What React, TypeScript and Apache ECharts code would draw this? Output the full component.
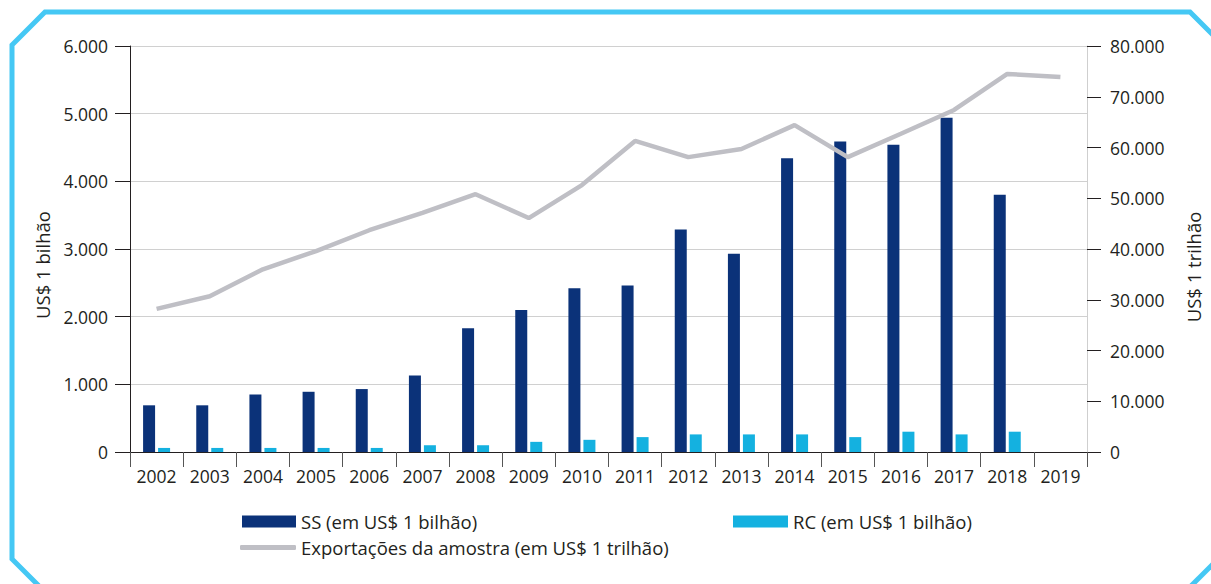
import React, { useEffect, useRef } from "react";
import * as echarts from "echarts";

const years = ["2002","2003","2004","2005","2006","2007","2008","2009","2010","2011","2012","2013","2014","2015","2016","2017","2018","2019"];
const ssValues: (number | null)[] = [690,690,850,890,930,1130,1830,2100,2420,2460,3290,2930,4340,4590,4540,4940,3800,null];
const rcValues: (number | null)[] = [60,60,60,60,60,100,100,150,180,220,260,260,260,220,300,260,300,null];
const exportValues = [28200,30700,36000,39600,43700,47100,50800,46100,52600,61300,58100,59700,64400,58100,62700,67400,74500,73900];

const leftTicks = { min: 0, max: 6000, interval: 1000 };
const rightTicks = { min: 0, max: 80000, interval: 10000 };

const seriesNames = ["SS (em US$ 1 bilhão)", "RC (em US$ 1 bilhão)", "Exportações da amostra (em US$ 1 trilhão)"];

const FONT = "'Open Sans', 'Noto Sans', sans-serif";
const TXT = "#231f20";
const fmt = (v: number) => {
  const s = Math.round(v).toString();
  return s.replace(/\B(?=(\d{3})+(?!\d))/g, ".");
};

export default function App() {
  const ref = useRef<HTMLDivElement>(null);
  useEffect(() => {
    if (!ref.current) return;
    const chart = echarts.init(ref.current, undefined, { renderer: "svg" });
    const blue = "#45c8f4";
    const legendText = { fontSize: 18.5, color: TXT, fontFamily: FONT };
    chart.setOption({
      animation: false,
      backgroundColor: "#ffffff",
      textStyle: { fontFamily: FONT },
      grid: { left: 130, right: 124, top: 46, bottom: 132, containLabel: false },
      legend: [
        {
          data: [seriesNames[0]], left: 242, top: 512, padding: 0, itemWidth: 54, itemHeight: 12, icon: "rect",
          textStyle: legendText,
        },
        {
          data: [seriesNames[1]], left: 733, top: 512, padding: 0, itemWidth: 55, itemHeight: 12, icon: "rect",
          textStyle: legendText,
        },
        {
          data: [seriesNames[2]], left: 240, top: 538, padding: 0, itemWidth: 56, itemHeight: 5, icon: "roundRect",
          itemGap: 0,
          textStyle: legendText,
        },
      ],
      xAxis: {
        type: "category",
        data: years,
        boundaryGap: true,
        axisLine: { lineStyle: { color: "#231f20", width: 1 } },
        axisTick: { show: true, interval: 0, length: 15, lineStyle: { color: "#555" } },
        axisLabel: { interval: 0, fontSize: 17.5, color: TXT, margin: 15, fontFamily: FONT },
      },
      yAxis: [
        {
          type: "value",
          position: "left",
          min: leftTicks.min, max: leftTicks.max, interval: leftTicks.interval,
          name: "US$ 1 bilhão",
          nameLocation: "middle",
          nameRotate: 90,
          nameGap: 75,
          nameTextStyle: { fontSize: 18.5, color: TXT, fontFamily: FONT, padding: [0, 32, 0, 0] },
          axisLine: { show: true, lineStyle: { color: "#231f20", width: 1 } },
          axisTick: { show: true, length: 15, lineStyle: { color: "#231f20" } },
          axisLabel: { fontSize: 17.5, color: TXT, margin: 22, formatter: fmt, fontFamily: FONT },
          splitLine: { show: true, lineStyle: { color: "#d0d0d0", width: 1 } },
        },
        {
          type: "value",
          position: "right",
          min: rightTicks.min, max: rightTicks.max, interval: rightTicks.interval,
          name: "US$ 1 trilhão",
          nameLocation: "middle",
          nameRotate: 90,
          nameGap: 97,
          nameTextStyle: { fontSize: 18.5, color: TXT, fontFamily: FONT, padding: [0, 36, 0, 0] },
          axisLine: { show: true, lineStyle: { color: "#cfcfcf", width: 1 } },
          axisTick: { show: true, length: 14, lineStyle: { color: "#231f20" } },
          axisLabel: { fontSize: 17.5, color: TXT, margin: 23, formatter: fmt, fontFamily: FONT },
          splitLine: { show: false },
        },
      ],
      series: [
        {
          name: seriesNames[0], type: "bar", yAxisIndex: 0, data: ssValues,
          barWidth: 12, barGap: "25%",
          itemStyle: { color: "#0b3279" },
        },
        {
          name: seriesNames[1], type: "bar", yAxisIndex: 0, data: rcValues,
          barWidth: 12, barGap: "25%",
          itemStyle: { color: "#14b1e0" },
        },
        {
          name: seriesNames[2], type: "line", yAxisIndex: 1, data: exportValues,
          showSymbol: false, symbol: "none",
          lineStyle: { color: "#bfbfc5", width: 4.5 },
          itemStyle: { color: "#bfbfc5" },
        },
      ],
      graphic: [
        {
          type: "polyline",
          shape: { points: [[40, 587], [12, 559], [12, 45], [45, 12], [1190, 12], [1226, 48]] },
          style: { stroke: blue, lineWidth: 5, fill: "none" },
          z: 100,
        },
        {
          type: "polyline",
          shape: { points: [[1190, 587], [1214, 563]] },
          style: { stroke: blue, lineWidth: 5, fill: "none" },
          z: 100,
        },
      ],
    });
    return () => chart.dispose();
  }, []);
  return (
    <div
      ref={ref}
      style={{ position: "absolute", left: 0, top: 0, width: 1211, height: 584 }}
    />
  );
}
